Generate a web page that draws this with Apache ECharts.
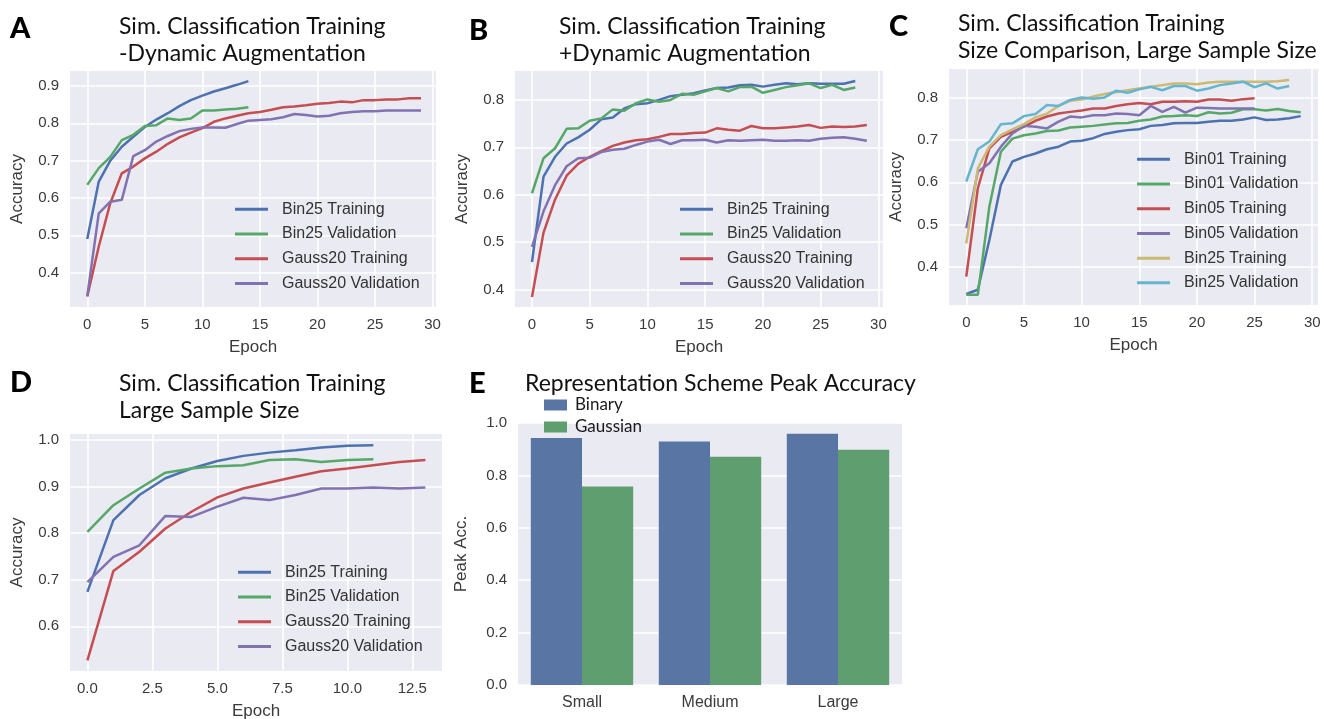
<!DOCTYPE html>
<html>
<head>
<meta charset="utf-8">
<script src="https://cdn.jsdelivr.net/npm/echarts@6/dist/echarts.min.js"></script>
<style>
  html, body { margin: 0; background: #fff; }
  .panel { position: absolute; left: 0; top: 0; width: 1322px; height: 719px; }
</style>
</head>
<body>
<div id="pa" class="panel"></div>
<div id="pb" class="panel"></div>
<div id="pc" class="panel"></div>
<div id="pd" class="panel"></div>
<div id="pe" class="panel"></div>
<script>
// panel A: -dynamic augmentation
const aBin25Train = [0.49, 0.644, 0.70, 0.737, 0.764, 0.79, 0.81, 0.827, 0.846, 0.862, 0.874, 0.885, 0.894, 0.903, 0.913]
const aBin25Val = [0.635, 0.68, 0.71, 0.755, 0.769, 0.793, 0.795, 0.813, 0.809, 0.813, 0.834, 0.834, 0.837, 0.839, 0.843]
const aGaussTrain = [0.336, 0.47, 0.586, 0.666, 0.684, 0.706, 0.724, 0.745, 0.762, 0.775, 0.787, 0.804, 0.813, 0.82, 0.827,
  0.83, 0.836, 0.843, 0.845, 0.848, 0.852, 0.854, 0.858, 0.856, 0.862, 0.862, 0.864, 0.864, 0.867, 0.867]
const aGaussVal = [0.337, 0.559, 0.59, 0.595, 0.712, 0.728, 0.751, 0.766, 0.779, 0.785, 0.789, 0.789, 0.788, 0.798, 0.807,
  0.809, 0.811, 0.816, 0.825, 0.822, 0.818, 0.82, 0.827, 0.83, 0.832, 0.832, 0.834, 0.834, 0.834, 0.834]

// panel B: +dynamic augmentation
const bBin25Train = [0.458, 0.638, 0.68, 0.708, 0.721, 0.737, 0.759, 0.763, 0.782, 0.791, 0.793, 0.80, 0.808, 0.811, 0.814,
  0.82, 0.825, 0.826, 0.831, 0.832, 0.828, 0.832, 0.835, 0.833, 0.835, 0.834, 0.834, 0.834, 0.84]
const bBin25Val = [0.603, 0.677, 0.698, 0.739, 0.74, 0.756, 0.761, 0.78, 0.777, 0.793, 0.801, 0.796, 0.80, 0.813, 0.811,
  0.818, 0.825, 0.818, 0.827, 0.828, 0.815, 0.821, 0.827, 0.831, 0.835, 0.825, 0.832, 0.821, 0.826]
const bGaussTrain = [0.384, 0.52, 0.59, 0.64, 0.665, 0.68, 0.692, 0.703, 0.71, 0.715, 0.717, 0.722, 0.728, 0.728, 0.73,
  0.731, 0.74, 0.737, 0.735, 0.745, 0.74, 0.74, 0.742, 0.744, 0.747, 0.741, 0.744, 0.743, 0.744, 0.747]
const bGaussVal = [0.49, 0.565, 0.62, 0.66, 0.677, 0.678, 0.69, 0.695, 0.697, 0.705, 0.712, 0.716, 0.707, 0.715, 0.715,
  0.716, 0.71, 0.715, 0.714, 0.715, 0.716, 0.714, 0.714, 0.715, 0.714, 0.718, 0.72, 0.721, 0.718, 0.714]

// panel C: size comparison
const cBin01Train = [0.337, 0.347, 0.464, 0.594, 0.649, 0.66, 0.668, 0.678, 0.684, 0.696, 0.698, 0.704, 0.714, 0.719, 0.723,
  0.725, 0.733, 0.735, 0.739, 0.74, 0.74, 0.743, 0.745, 0.745, 0.748, 0.753, 0.747, 0.748, 0.751, 0.756]
const cBin01Val = [0.335, 0.335, 0.543, 0.672, 0.703, 0.711, 0.715, 0.721, 0.722, 0.729, 0.731, 0.733, 0.736, 0.739, 0.74,
  0.745, 0.748, 0.755, 0.756, 0.758, 0.756, 0.765, 0.762, 0.764, 0.772, 0.772, 0.769, 0.773, 0.768, 0.765]
const cBin05Train = [0.378, 0.586, 0.68, 0.707, 0.719, 0.731, 0.745, 0.755, 0.762, 0.766, 0.769, 0.774, 0.774, 0.78, 0.784,
  0.787, 0.784, 0.79, 0.79, 0.791, 0.79, 0.795, 0.795, 0.792, 0.796, 0.798]
const cBin05Val = [0.492, 0.625, 0.645, 0.684, 0.715, 0.733, 0.731, 0.727, 0.743, 0.755, 0.753, 0.758, 0.758, 0.762, 0.761,
  0.758, 0.78, 0.766, 0.778, 0.764, 0.776, 0.775, 0.774, 0.774, 0.774, 0.774]
const cBin25Train = [0.456, 0.633, 0.684, 0.711, 0.725, 0.737, 0.753, 0.762, 0.78, 0.792, 0.795, 0.802, 0.808, 0.813, 0.817,
  0.821, 0.825, 0.829, 0.833, 0.833, 0.831, 0.835, 0.837, 0.837, 0.837, 0.837, 0.837, 0.838, 0.841]
const cBin25Val = [0.602, 0.678, 0.696, 0.737, 0.739, 0.756, 0.761, 0.782, 0.78, 0.794, 0.80, 0.797, 0.80, 0.816, 0.811,
  0.819, 0.825, 0.817, 0.827, 0.827, 0.816, 0.821, 0.829, 0.833, 0.837, 0.824, 0.833, 0.821, 0.827]

// panel D: large sample size
const dBin25Train = [0.674, 0.828, 0.882, 0.918, 0.939, 0.955, 0.966, 0.973, 0.978, 0.984, 0.988, 0.989]
const dBin25Val = [0.803, 0.86, 0.896, 0.93, 0.939, 0.944, 0.946, 0.957, 0.959, 0.953, 0.957, 0.959]
const dGaussTrain = [0.527, 0.719, 0.76, 0.81, 0.846, 0.877, 0.896, 0.909, 0.921, 0.933, 0.939, 0.946, 0.953, 0.957]
const dGaussVal = [0.695, 0.749, 0.774, 0.837, 0.835, 0.857, 0.876, 0.871, 0.882, 0.896, 0.896, 0.898, 0.896, 0.898]

// panel E: peak accuracy
const sizeNames = ['Small', 'Medium', 'Large']
const peakBinary = [0.943, 0.929, 0.959]
const peakGaussian = [0.758, 0.871, 0.898]

const deep = ['#4C72B0', '#55A868', '#C44E52', '#8172B2', '#CCB974', '#64B5CD']
const tickStyle = {color: '#3a3a3a', fontFamily: 'Liberation Sans', fontSize: 15}
const nameStyle = {color: '#3a3a3a', fontFamily: 'Liberation Sans', fontSize: 17}
const gridLine = {show: true, lineStyle: {color: '#ffffff', width: 1.6}}

function headers (letter, lx, ly, title, tx, ty) {
  return [
    {text: letter, left: lx, top: ly, padding: 0, textStyle: {fontFamily: 'Lato', fontWeight: 900, fontSize: 29, color: '#000'}},
    {text: title, left: tx, top: ty, padding: 0, textStyle: {fontFamily: 'Lato', fontWeight: 'normal', fontSize: 23, lineHeight: 27, color: '#111'}}
  ]
}

function valueAxis (min, max, step, digits, extra) {
  return Object.assign({
    type: 'value',
    min: min,
    max: max,
    minInterval: step,
    maxInterval: step,
    axisLine: {show: false},
    axisTick: {show: false},
    splitLine: Object.assign({showMinLine: false, showMaxLine: false}, gridLine),
    axisLabel: Object.assign({
      margin: 11,
      showMinLabel: false,
      showMaxLabel: false,
      formatter: (v) => v.toFixed(digits)
    }, tickStyle),
    nameLocation: 'middle',
    nameTextStyle: nameStyle
  }, extra)
}

function linePanel (id, p) {
  const chart = echarts.init(document.getElementById(id))
  chart.setOption({
    animation: false,
    color: p.colors,
    title: headers(p.letter, p.letterX, p.letterY, p.title, p.titleX, p.titleY),
    grid: {left: p.grid[0], top: p.grid[1], width: p.grid[2], height: p.grid[3], show: true,
      backgroundColor: '#EAEAF2', borderWidth: 0, outerBoundsMode: 'none'},
    xAxis: valueAxis(p.x[0], p.x[1], p.x[2], p.x[3], {name: 'Epoch', nameGap: 32, axisLabel: Object.assign({
      margin: 10, showMinLabel: false, showMaxLabel: false, formatter: (v) => v.toFixed(p.x[3])}, tickStyle)}),
    yAxis: valueAxis(p.y[0], p.y[1], 0.1, 1, {name: 'Accuracy', nameGap: 44}),
    legend: {
      orient: 'vertical',
      left: p.legend[0],
      top: p.legend[1],
      padding: 0,
      icon: 'rect',
      itemWidth: 33,
      itemHeight: 3,
      itemGap: 0,
      textStyle: {color: '#333', fontFamily: 'Liberation Sans', fontSize: 16, lineHeight: 24.7, padding: [0, 0, 0, 9]},
      data: p.names
    },
    series: p.names.map((n, k) => ({
      name: n,
      type: 'line',
      symbol: 'none',
      lineStyle: {width: 2.5},
      data: p.values[k].map((v, i) => [i, v])
    }))
  })
}

const pairNames = ['Bin25 Training', 'Bin25 Validation', 'Gauss20 Training', 'Gauss20 Validation']

linePanel('pa', {
  letter: 'A', letterX: 10, letterY: 14,
  title: 'Sim. Classification Training\n-Dynamic Augmentation', titleX: 119, titleY: 13,
  grid: [70, 71, 366, 236],
  x: [-1.5, 30.3, 5, 0], y: [0.308, 0.94],
  legend: [235, 197],
  colors: deep.slice(0, 4),
  names: pairNames,
  values: [aBin25Train, aBin25Val, aGaussTrain, aGaussVal]
})

linePanel('pb', {
  letter: 'B', letterX: 469, letterY: 16,
  title: 'Sim. Classification Training\n+Dynamic Augmentation', titleX: 559, titleY: 13,
  grid: [515, 71, 368, 236],
  x: [-1.47, 30.4, 5, 0], y: [0.363, 0.861],
  legend: [680, 197],
  colors: deep.slice(0, 4),
  names: pairNames,
  values: [bBin25Train, bBin25Val, bGaussTrain, bGaussVal]
})

linePanel('pc', {
  letter: 'C', letterX: 889, letterY: 12,
  title: 'Sim. Classification Training\nSize Comparison, Large Sample Size', titleX: 958, titleY: 10,
  grid: [949, 69, 369, 236],
  x: [-1.5, 30.5, 5, 0], y: [0.311, 0.867],
  legend: [1137, 147],
  colors: deep,
  names: ['Bin01 Training', 'Bin01 Validation', 'Bin05 Training', 'Bin05 Validation', 'Bin25 Training', 'Bin25 Validation'],
  values: [cBin01Train, cBin01Val, cBin05Train, cBin05Val, cBin25Train, cBin25Val]
})

linePanel('pd', {
  letter: 'D', letterX: 10, letterY: 368,
  title: 'Sim. Classification Training\nLarge Sample Size', titleX: 119, titleY: 370,
  grid: [70, 434, 372, 237],
  x: [-0.67, 13.64, 2.5, 1], y: [0.504, 1.013],
  legend: [238, 560],
  colors: deep.slice(0, 4),
  names: pairNames,
  values: [dBin25Train, dBin25Val, dGaussTrain, dGaussVal]
})

const chartE = echarts.init(document.getElementById('pe'))
chartE.setOption({
  animation: false,
  color: ['#5975A4', '#5F9E6E'],
  title: headers('E', 469, 369, 'Representation Scheme Peak Accuracy', 525, 370),
  grid: {left: 518, top: 423, width: 384, height: 262, show: true,
    backgroundColor: '#EAEAF2', borderWidth: 0, outerBoundsMode: 'none'},
  xAxis: {
    type: 'category',
    data: sizeNames,
    axisLine: {show: false},
    axisTick: {show: false},
    splitLine: {show: false},
    axisLabel: Object.assign({margin: 10}, tickStyle, {fontSize: 16})
  },
  yAxis: {
    type: 'value',
    min: 0,
    max: 1,
    interval: 0.2,
    name: 'Peak Acc.',
    nameLocation: 'middle',
    nameGap: 48,
    nameTextStyle: nameStyle,
    axisLine: {show: false},
    axisTick: {show: false},
    splitLine: gridLine,
    axisLabel: Object.assign({margin: 11, formatter: (v) => v.toFixed(1)}, tickStyle)
  },
  legend: {
    orient: 'vertical',
    left: 544,
    top: 394,
    padding: 0,
    icon: 'rect',
    itemWidth: 23,
    itemHeight: 11,
    itemGap: 0,
    textStyle: {color: '#1a1a1a', fontFamily: 'Lato', fontSize: 17, lineHeight: 22, padding: [0, 0, 0, 3]},
    data: ['Binary', 'Gaussian']
  },
  series: [
    {name: 'Binary', type: 'bar', barWidth: '40%', barGap: '0%', data: peakBinary},
    {name: 'Gaussian', type: 'bar', barWidth: '40%', barGap: '0%', data: peakGaussian}
  ]
})
</script>
</body>
</html>
